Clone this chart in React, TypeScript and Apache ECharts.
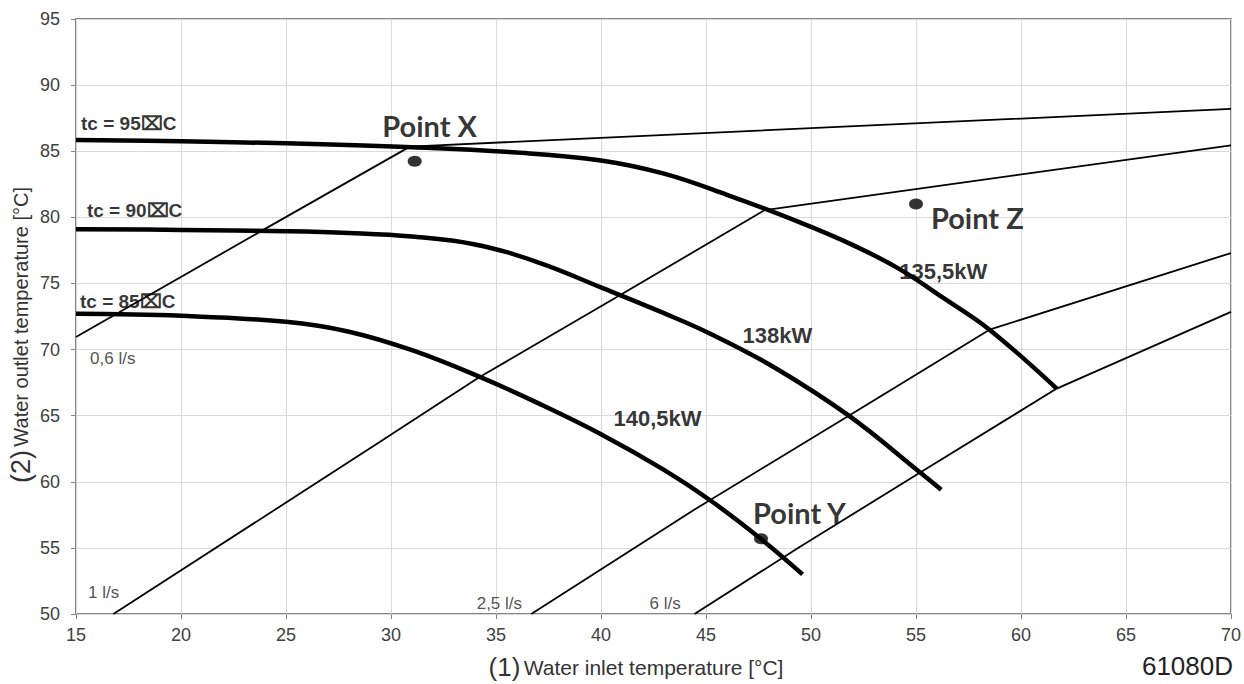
import React, { useEffect, useRef } from "react";
import * as echarts from "echarts";

// Axis ranges / ticks
const xMin = 15, xMax = 70, xStep = 5;
const yMin = 50, yMax = 95, yStep = 5;

// Capacity curves (condensing temperature tc)
const tc95: number[][] = [[15, 85.85], [20, 85.75], [25, 85.6], [31, 85.3], [36, 84.9], [40, 84.3], [43, 83.3], [46, 81.7], [49.5, 79.6], [52, 77.9], [54.2, 76.1], [56.3, 73.9], [58.5, 71.5], [61.7, 67.05]];
const tc90: number[][] = [[15, 79.1], [20, 79.05], [25, 78.95], [28, 78.82], [31, 78.55], [34, 77.95], [37, 76.6], [40, 74.7], [43, 72.75], [45.2, 71.2], [48.2, 68.7], [51.8, 65.0], [55.2, 60.7], [56.2, 59.4]];
const tc85: number[][] = [[15, 72.7], [20, 72.55], [25, 72.1], [28, 71.35], [31, 69.95], [34.2, 67.95], [37, 65.95], [40, 63.6], [43, 60.9], [45.2, 58.6], [47.6, 55.7], [49.6, 53.0]];

// Water flow lines
const flow06: number[][] = [[15, 70.95], [23.75, 78.9], [30.9, 85.35], [70, 88.2]];
const flow1: number[][] = [[16.78, 50], [29.46, 63.0], [34.2, 67.9], [41.0, 74.2], [47.8, 80.55], [70, 85.45]];
const flow25: number[][] = [[36.68, 50], [44.4, 57.85], [51.8, 65.0], [58.5, 71.5], [70, 77.3]];
const flow6: number[][] = [[44.45, 50], [49.44, 55.05], [55.2, 60.7], [61.7, 67.05], [70, 72.85]];

// Operating points
const points: number[][] = [[31.13, 84.25], [47.62, 55.69], [55.0, 81.0]];

// Text annotations: [x, y, text]
const pointLabels: [number, number, string][] = [[31.84, 86.91, "Point X"], [49.45, 57.71, "Point Y"], [57.92, 79.95, "Point Z"]];
const powerLabels: [number, number, string][] = [[56.3, 75.94, "135,5kW"], [48.4, 71.1, "138kW"], [42.69, 64.82, "140,5kW"]];
const tcLabels: [number, number, string][] = [[15.24, 87.06, "tc = 95⌧C"], [15.52, 80.55, "tc = 90⌧C"], [15.19, 73.67, "tc = 85⌧C"]];
const flowLabels: [number, number, string][] = [[15.67, 69.36, "0,6 l/s"], [15.57, 51.59, "1 l/s"], [34.08, 50.76, "2,5 l/s"], [42.31, 50.76, "6 l/s"]];

const xTitleNum = "(1)";
const xTitle = "Water inlet temperature [°C]";
const yTitleNum = "(2)";
const yTitle = "Water outlet temperature [°C]";
const code = "61080D";

const SANS = "'Liberation Sans', Arial, sans-serif";

export default function App() {
  const ref = useRef<HTMLDivElement>(null);
  useEffect(() => {
    if (!ref.current) return;
    const chart = echarts.init(ref.current, undefined, { renderer: "svg" });

    const thick = (data: number[][]) => ({
      type: "line",
      data,
      showSymbol: false,
      smooth: 0.4,
      silent: true,
      lineStyle: { color: "#000", width: 4.5 },
      z: 4,
    });
    const thin = (data: number[][]) => ({
      type: "line",
      data,
      showSymbol: false,
      silent: true,
      lineStyle: { color: "#000", width: 1.8 },
      z: 3,
    });
    const labelSeries = (
      items: [number, number, string][],
      align: string,
      font: { size: number; weight: string; family: string; color: string }
    ) => ({
      type: "scatter",
      silent: true,
      symbolSize: 0,
      itemStyle: { color: "rgba(0,0,0,0)" },
      z: 6,
      data: items.map((d) => ({
        value: [d[0], d[1]],
        label: {
          show: true,
          formatter: d[2],
          position: "inside",
          align,
          verticalAlign: "middle",
          fontSize: font.size,
          fontWeight: font.weight,
          fontFamily: font.family,
          color: font.color,
        },
      })),
    });

    chart.setOption({
      animation: false,
      backgroundColor: "#fff",
      grid: {
        left: 76,
        right: 12,
        top: 19,
        bottom: 70,
        show: true,
        borderColor: "#858585",
        borderWidth: 2,
      },
      xAxis: {
        type: "value",
        min: xMin,
        max: xMax,
        interval: xStep,
        axisLine: { show: false },
        axisTick: { show: true, length: 5, lineStyle: { color: "#858585" } },
        axisLabel: { margin: 12, fontSize: 18, fontFamily: SANS, color: "#404040" },
        splitLine: { show: true, lineStyle: { color: "#dadada", width: 1 } },
      },
      yAxis: {
        type: "value",
        min: yMin,
        max: yMax,
        interval: yStep,
        axisLine: { show: false },
        axisTick: { show: true, length: 5, lineStyle: { color: "#858585" } },
        axisLabel: { margin: 16, fontSize: 18, fontFamily: SANS, color: "#404040" },
        splitLine: { show: true, lineStyle: { color: "#dadada", width: 1 } },
      },
      series: [
        thin(flow06),
        thin(flow1),
        thin(flow25),
        thin(flow6),
        thick(tc95),
        thick(tc90),
        thick(tc85),
        {
          type: "scatter",
          data: points,
          symbol: "circle",
          symbolSize: [14, 11],
          silent: true,
          itemStyle: { color: "#000" },
          z: 5,
        },
        labelSeries(pointLabels, "center", { size: 29, weight: "bold", family: "Lato, 'Open Sans', sans-serif", color: "#000" }),
        labelSeries(powerLabels, "center", { size: 22, weight: "bold", family: SANS, color: "#000" }),
        labelSeries(tcLabels, "left", { size: 19, weight: "bold", family: SANS, color: "#000" }),
        labelSeries(flowLabels, "left", { size: 17, weight: "normal", family: SANS, color: "#222" }),
      ],
      graphic: [
        {
          type: "text",
          x: 636,
          y: 667,
          silent: true,
          style: {
            text: "{a|" + xTitleNum + "} {b|" + xTitle + "}",
            align: "center",
            verticalAlign: "middle",
            fill: "#333",
            rich: {
              a: { fontSize: 26, fontFamily: SANS, fill: "#333" },
              b: { fontSize: 21, fontFamily: SANS, fill: "#333" },
            },
          },
        },
        {
          type: "text",
          x: 21,
          y: 335,
          rotation: Math.PI / 2,
          silent: true,
          style: {
            text: "{a|" + yTitleNum + "} {b|" + yTitle + "}",
            align: "center",
            verticalAlign: "middle",
            fill: "#333",
            rich: {
              a: { fontSize: 27, fontFamily: SANS, fill: "#333" },
              b: { fontSize: 20, fontFamily: SANS, fill: "#333" },
            },
          },
        },
        {
          type: "text",
          x: 1233,
          y: 666,
          silent: true,
          style: {
            text: code,
            align: "right",
            verticalAlign: "middle",
            fontSize: 26,
            fontFamily: SANS,
            fill: "#222",
          },
        },
      ],
    });
    return () => chart.dispose();
  }, []);
  return (
    <div
      ref={ref}
      style={{ position: "fixed", left: 0, top: 0, width: 1244, height: 684, background: "#fff" }}
    />
  );
}
